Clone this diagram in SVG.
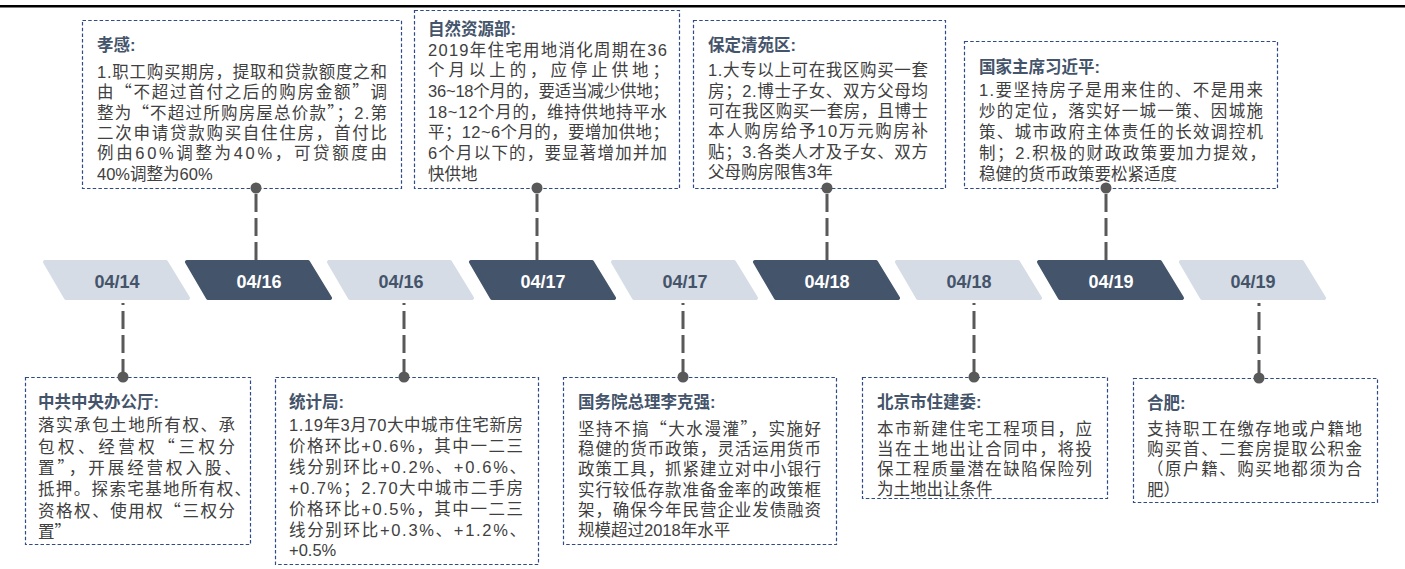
<svg xmlns="http://www.w3.org/2000/svg" width="1405" height="569" viewBox="0 0 1405 569">
<style>
.box{fill:#fff;stroke:#2F4A85;stroke-width:1.2;stroke-dasharray:3.5 2.2}
.ttl{font-family:"Liberation Sans","Noto Sans CJK SC",sans-serif;font-size:16.5px;font-weight:700;fill:#44546A}
.txt{font-family:"Liberation Sans","Noto Sans CJK SC",sans-serif;font-size:16.5px;fill:#404040}
.q{font-family:"Noto Sans CJK SC",sans-serif}
.lt{fill:#D6DCE5;stroke:#D6DCE5;stroke-width:4;stroke-linejoin:round}
.dk{fill:#44546A;stroke:#44546A;stroke-width:4;stroke-linejoin:round}
.lbl{font-family:"Liberation Sans",Arial,sans-serif;font-size:18px;font-weight:700;text-anchor:middle}
.lbl-lt{fill:#44546A}
.lbl-dk{fill:#fff}
.con{stroke:#595959;stroke-width:3;stroke-dasharray:18 6;fill:none}
.dot{fill:#595959}
</style>
<line x1="0" y1="6.2" x2="1405" y2="6.2" stroke="#000" stroke-width="2.4"/>

<g id="timeline">
<g id="d1"><path class="lt" d="M45,262 L166,262 L188,298 L66,298 Z"/><text class="lbl lbl-lt" x="117" y="288">04/14</text></g>
<g id="d2"><path class="dk" d="M187,262 L308,262 L330,298 L208,298 Z"/><text class="lbl lbl-dk" x="259" y="288">04/16</text></g>
<g id="d3"><path class="lt" d="M329,262 L450,262 L472,298 L350,298 Z"/><text class="lbl lbl-lt" x="401" y="288">04/16</text></g>
<g id="d4"><path class="dk" d="M471,262 L592,262 L614,298 L492,298 Z"/><text class="lbl lbl-dk" x="543" y="288">04/17</text></g>
<g id="d5"><path class="lt" d="M613,262 L734,262 L756,298 L634,298 Z"/><text class="lbl lbl-lt" x="685" y="288">04/17</text></g>
<g id="d6"><path class="dk" d="M755,262 L876,262 L898,298 L776,298 Z"/><text class="lbl lbl-dk" x="827" y="288">04/18</text></g>
<g id="d7"><path class="lt" d="M897,262 L1018,262 L1040,298 L918,298 Z"/><text class="lbl lbl-lt" x="969" y="288">04/18</text></g>
<g id="d8"><path class="dk" d="M1039,262 L1160,262 L1182,298 L1060,298 Z"/><text class="lbl lbl-dk" x="1111" y="288">04/19</text></g>
<g id="d9"><path class="lt" d="M1181,262 L1302,262 L1324,298 L1202,298 Z"/><text class="lbl lbl-lt" x="1253" y="288">04/19</text></g>
</g>

<g id="connectors">
<path class="con" d="M256,260 V188"/>
<path class="con" d="M537,260 V188"/>
<path class="con" d="M827,260 V188"/>
<path class="con" d="M1106,260 V188"/>
<path class="con" d="M123,377 V303"/>
<path class="con" d="M404,377 V303"/>
<path class="con" d="M683,377 V303"/>
<path class="con" d="M974,377 V303"/>
<path class="con" d="M1259,378 V303"/>
</g>

<g id="n-xiaogan">
<rect class="box" x="82.5" y="20.5" width="319" height="168"/>
<text class="ttl" x="97" y="51">孝感:</text>
<text class="txt" x="97" y="78" textLength="290" lengthAdjust="spacing">1.职工购买期房，提取和贷款额度之和</text>
<text class="txt" x="97" y="98.3" textLength="290" lengthAdjust="spacing">由<tspan class="q">“</tspan>不超过首付之后的购房金额<tspan class="q">”</tspan>调</text>
<text class="txt" x="97" y="118.6" textLength="290" lengthAdjust="spacing">整为<tspan class="q">“</tspan>不超过所购房屋总价款<tspan class="q">”</tspan>；2.第</text>
<text class="txt" x="97" y="138.9" textLength="290" lengthAdjust="spacing">二次申请贷款购买自住住房，首付比</text>
<text class="txt" x="97" y="159.2" textLength="290" lengthAdjust="spacing">例由60%调整为40%，可贷额度由</text>
<text class="txt" x="97" y="179.5">40%调整为60%</text>
</g>

<g id="n-ziran">
<rect class="box" x="414.5" y="10.5" width="265" height="178"/>
<text class="ttl" x="428" y="34.5">自然资源部:</text>
<text class="txt" x="428" y="55.6" textLength="239" lengthAdjust="spacing">2019年住宅用地消化周期在36</text>
<text class="txt" x="428" y="76.3" textLength="241" lengthAdjust="spacing">个月以上的，应停止供地；</text>
<text class="txt" x="428" y="97" textLength="241" lengthAdjust="spacing">36~18个月的，要适当减少供地；</text>
<text class="txt" x="428" y="117.6" textLength="239" lengthAdjust="spacing">18~12个月的，维持供地持平水</text>
<text class="txt" x="428" y="138.3" textLength="241" lengthAdjust="spacing">平；12~6个月的，要增加供地；</text>
<text class="txt" x="428" y="159" textLength="239" lengthAdjust="spacing">6个月以下的，要显著增加并加</text>
<text class="txt" x="428" y="179.6">快供地</text>
</g>

<g id="n-baoding">
<rect class="box" x="693.5" y="20.5" width="252" height="168"/>
<text class="ttl" x="708" y="51">保定清苑区:</text>
<text class="txt" x="708" y="76.3" textLength="220" lengthAdjust="spacing">1.大专以上可在我区购买一套</text>
<text class="txt" x="708" y="96.6" textLength="220" lengthAdjust="spacing">房；2.博士子女、双方父母均</text>
<text class="txt" x="708" y="117" textLength="220" lengthAdjust="spacing">可在我区购买一套房，且博士</text>
<text class="txt" x="708" y="137.3" textLength="220" lengthAdjust="spacing">本人购房给予10万元购房补</text>
<text class="txt" x="708" y="157.6" textLength="220" lengthAdjust="spacing">贴；3.各类人才及子女、双方</text>
<text class="txt" x="708" y="178">父母购房限售3年</text>
</g>

<g id="n-xi">
<rect class="box" x="964.5" y="41.5" width="313" height="147"/>
<text class="ttl" x="979" y="73">国家主席习近平:</text>
<text class="txt" x="979" y="95.6" textLength="284" lengthAdjust="spacing">1.要坚持房子是用来住的、不是用来</text>
<text class="txt" x="979" y="116.6" textLength="284" lengthAdjust="spacing">炒的定位，落实好一城一策、因城施</text>
<text class="txt" x="979" y="137.6" textLength="284" lengthAdjust="spacing">策、城市政府主体责任的长效调控机</text>
<text class="txt" x="979" y="158.6" textLength="287" lengthAdjust="spacing">制；2.积极的财政政策要加力提效，</text>
<text class="txt" x="979" y="179.6">稳健的货币政策要松紧适度</text>
</g>

<g id="n-zhongban">
<rect class="box" x="25.5" y="377.5" width="225" height="167"/>
<text class="ttl" x="38" y="408">中共中央办公厅:</text>
<text class="txt" x="38" y="431.3" textLength="197" lengthAdjust="spacing">落实承包土地所有权、承</text>
<text class="txt" x="38" y="452.6" textLength="197" lengthAdjust="spacing">包权、经营权<tspan class="q">“</tspan>三权分</text>
<text class="txt" x="38" y="474" textLength="203" lengthAdjust="spacing">置<tspan class="q">”</tspan>，开展经营权入股、</text>
<text class="txt" x="38" y="495.3" textLength="213" lengthAdjust="spacing">抵押。探索宅基地所有权、</text>
<text class="txt" x="38" y="516.6" textLength="197" lengthAdjust="spacing">资格权、使用权<tspan class="q">“</tspan>三权分</text>
<text class="txt" x="38" y="538">置<tspan class="q">”</tspan></text>
</g>

<g id="n-tongji">
<rect class="box" x="275.5" y="377.5" width="263" height="187"/>
<text class="ttl" x="289" y="408">统计局:</text>
<text class="txt" x="289" y="431.3" textLength="234" lengthAdjust="spacing">1.19年3月70大中城市住宅新房</text>
<text class="txt" x="289" y="452.1" textLength="234" lengthAdjust="spacing">价格环比+0.6%，其中一二三</text>
<text class="txt" x="289" y="473" textLength="237" lengthAdjust="spacing">线分别环比+0.2%、+0.6%、</text>
<text class="txt" x="289" y="493.8" textLength="234" lengthAdjust="spacing">+0.7%；2.70大中城市二手房</text>
<text class="txt" x="289" y="514.6" textLength="234" lengthAdjust="spacing">价格环比+0.5%，其中一二三</text>
<text class="txt" x="289" y="535.5" textLength="237" lengthAdjust="spacing">线分别环比+0.3%、+1.2%、</text>
<text class="txt" x="289" y="556.3">+0.5%</text>
</g>

<g id="n-likeqiang">
<rect class="box" x="563.5" y="377.5" width="273" height="167"/>
<text class="ttl" x="578" y="408">国务院总理李克强:</text>
<text class="txt" x="578" y="434.6" textLength="243" lengthAdjust="spacing">坚持不搞<tspan class="q">“</tspan>大水漫灌<tspan class="q">”</tspan>，实施好</text>
<text class="txt" x="578" y="454.9" textLength="243" lengthAdjust="spacing">稳健的货币政策，灵活运用货币</text>
<text class="txt" x="578" y="475.3" textLength="243" lengthAdjust="spacing">政策工具，抓紧建立对中小银行</text>
<text class="txt" x="578" y="495.6" textLength="243" lengthAdjust="spacing">实行较低存款准备金率的政策框</text>
<text class="txt" x="578" y="515.9" textLength="243" lengthAdjust="spacing">架，确保今年民营企业发债融资</text>
<text class="txt" x="578" y="536.3">规模超过2018年水平</text>
</g>

<g id="n-beijing">
<rect class="box" x="862.5" y="377.5" width="245" height="121"/>
<text class="ttl" x="877" y="408">北京市住建委:</text>
<text class="txt" x="877" y="434.6" textLength="215" lengthAdjust="spacing">本市新建住宅工程项目，应</text>
<text class="txt" x="877" y="454.6" textLength="215" lengthAdjust="spacing">当在土地出让合同中，将投</text>
<text class="txt" x="877" y="474.6" textLength="215" lengthAdjust="spacing">保工程质量潜在缺陷保险列</text>
<text class="txt" x="877" y="494.6">为土地出让条件</text>
</g>

<g id="n-hefei">
<rect class="box" x="1133.5" y="378.5" width="244" height="124"/>
<text class="ttl" x="1147" y="409">合肥:</text>
<text class="txt" x="1147" y="434.6" textLength="215" lengthAdjust="spacing">支持职工在缴存地或户籍地</text>
<text class="txt" x="1147" y="454.9" textLength="215" lengthAdjust="spacing">购买首、二套房提取公积金</text>
<text class="txt" x="1147" y="475.3" textLength="215" lengthAdjust="spacing">（原户籍、购买地都须为合</text>
<text class="txt" x="1147" y="495.6">肥）</text>
</g>

<g id="dots">
<circle class="dot" cx="256" cy="188" r="5.5"/>
<circle class="dot" cx="537" cy="188" r="5.5"/>
<circle class="dot" cx="827" cy="188" r="5.5"/>
<circle class="dot" cx="1106" cy="188" r="5.5"/>
<circle class="dot" cx="123" cy="377" r="5.5"/>
<circle class="dot" cx="404" cy="377" r="5.5"/>
<circle class="dot" cx="683" cy="377" r="5.5"/>
<circle class="dot" cx="974" cy="377" r="5.5"/>
<circle class="dot" cx="1259" cy="378" r="5.5"/>
</g>
</svg>
